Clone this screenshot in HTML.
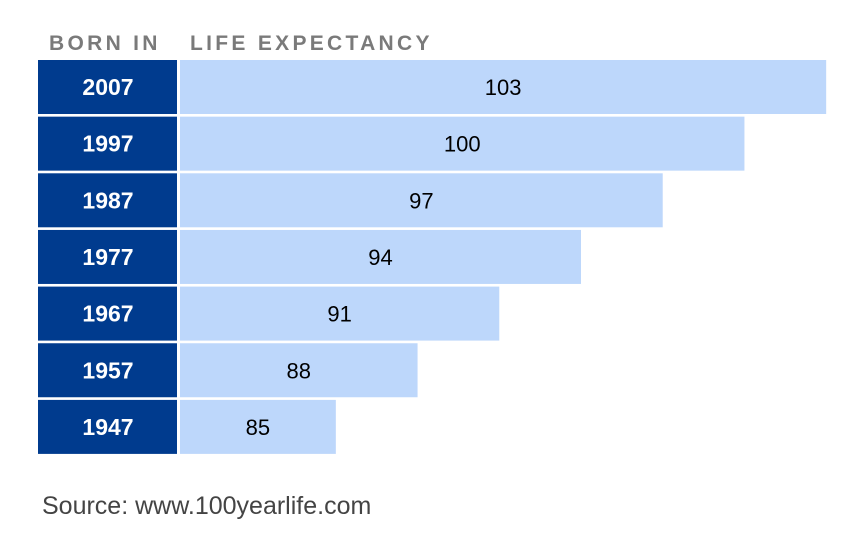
<!DOCTYPE html>
<html><head><meta charset="utf-8"><style>
body{margin:0;width:844px;height:532px;background:#fff;font-family:"Liberation Sans",sans-serif;overflow:hidden}
</style></head><body>
<svg width="844" height="532">
<text x="49" y="50" font-size="21" font-weight="bold" fill="#7a7a7a" letter-spacing="3.3">BORN IN</text>
<text x="190" y="50" font-size="21" font-weight="bold" fill="#7a7a7a" letter-spacing="3.3">LIFE EXPECTANCY</text>
<g id="rows"></g>
<text x="42" y="514" font-size="25" fill="#444">Source: www.100yearlife.com</text>
</svg>
<script>
const years=["2007","1997","1987","1977","1967","1957","1947"];
const values=[103,100,97,94,91,88,85];
const x0=180, top0=60, pitch=56.65, h=54;
function xs(v){return 401+27.24*(v-94);}
const g=document.getElementById('rows');
const ns="http://www.w3.org/2000/svg";
years.forEach((y,i)=>{
 const yy=top0+i*pitch;
 const l=document.createElementNS(ns,'rect');
 l.setAttribute('x',38);l.setAttribute('y',yy);l.setAttribute('width',139);l.setAttribute('height',h);l.setAttribute('fill','#003b8e');
 
 
 g.appendChild(l);
 const t=document.createElementNS(ns,'text');
 t.setAttribute('x',108);t.setAttribute('y',yy+h/2+8);t.setAttribute('text-anchor','middle');t.setAttribute('font-size','23');t.setAttribute('font-weight','bold');t.setAttribute('fill','#fff');
 t.textContent=y;
 
 
 g.appendChild(t);
 const w=xs(values[i]);
 const b=document.createElementNS(ns,'rect');
 b.setAttribute('x',x0);b.setAttribute('y',yy);b.setAttribute('width',w);b.setAttribute('height',h);b.setAttribute('fill','#bdd7fb');
 
 
 g.appendChild(b);
 const v=document.createElementNS(ns,'text');
 v.setAttribute('x',x0+w/2);v.setAttribute('y',yy+h/2+8);v.setAttribute('text-anchor','middle');v.setAttribute('font-size','22');v.setAttribute('fill','#000');
 v.textContent=values[i];
 
 
 g.appendChild(v);
});
</script>
</body></html>
